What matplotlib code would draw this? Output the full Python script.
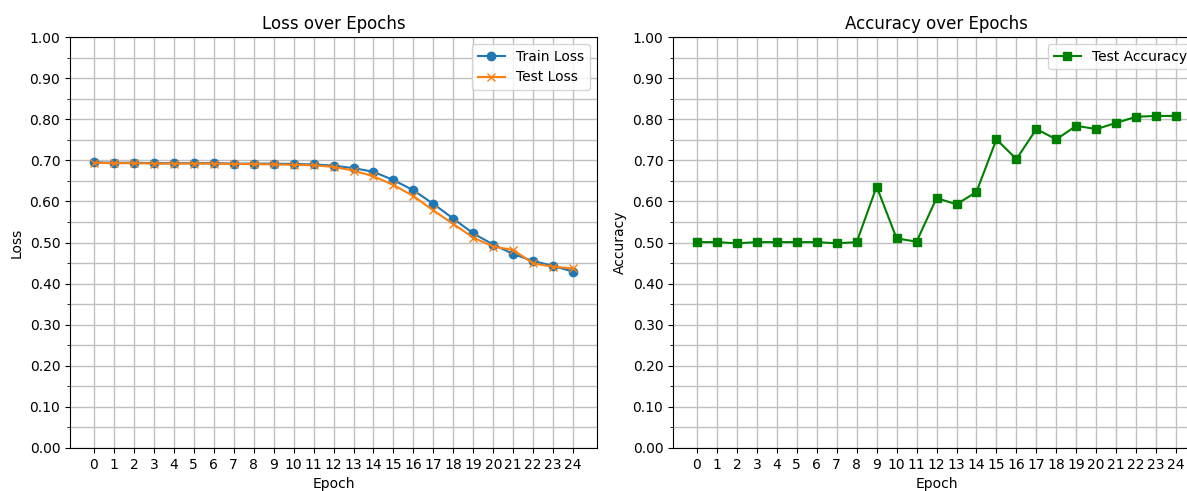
import matplotlib
matplotlib.use("Agg")
import matplotlib.pyplot as plt
from matplotlib.ticker import MultipleLocator, FormatStrFormatter

epochs = list(range(25))

train_loss = [0.695, 0.694, 0.694, 0.693, 0.693, 0.693, 0.693, 0.692, 0.692, 0.692,
              0.691, 0.690, 0.687, 0.681, 0.672, 0.652, 0.627, 0.594, 0.558, 0.522,
              0.495, 0.472, 0.455, 0.443, 0.429]
test_loss = [0.694, 0.693, 0.693, 0.692, 0.692, 0.692, 0.692, 0.691, 0.691, 0.690,
             0.689, 0.688, 0.684, 0.675, 0.661, 0.640, 0.613, 0.578, 0.545, 0.512,
             0.490, 0.482, 0.449, 0.441, 0.437]
test_acc = [0.501, 0.501, 0.498, 0.501, 0.501, 0.501, 0.501, 0.498, 0.501, 0.636,
            0.510, 0.502, 0.608, 0.593, 0.623, 0.751, 0.703, 0.776, 0.751, 0.784,
            0.776, 0.791, 0.806, 0.808, 0.808]


def style_axes(ax, title, ylabel):
    ax.set_title(title, fontsize=12)
    ax.set_xlabel("Epoch")
    ax.set_ylabel(ylabel)
    ax.set_ylim(0, 1)
    ax.set_xticks(epochs)
    ax.yaxis.set_major_locator(MultipleLocator(0.1))
    ax.yaxis.set_minor_locator(MultipleLocator(0.05))
    ax.yaxis.set_major_formatter(FormatStrFormatter("%.2f"))
    ax.grid(True, which="both", color="#c0c0c0", linewidth=1.0)
    ax.set_axisbelow(True)


fig = plt.figure(figsize=(11.87, 4.91), dpi=100)
ax1 = fig.add_axes([0.059, 0.0876, 0.444, 0.837])
ax2 = fig.add_axes([0.567, 0.0876, 0.444, 0.837])

ax1.plot(epochs, train_loss, marker="o", label="Train Loss")
ax1.plot(epochs, test_loss, marker="x", label="Test Loss")
style_axes(ax1, "Loss over Epochs", "Loss")
ax1.legend(loc="upper right")

ax2.plot(epochs, test_acc, marker="s", color="green", label="Test Accuracy")
style_axes(ax2, "Accuracy over Epochs", "Accuracy")
ax2.legend(loc="upper right")

fig.savefig("out.png", dpi=100)
